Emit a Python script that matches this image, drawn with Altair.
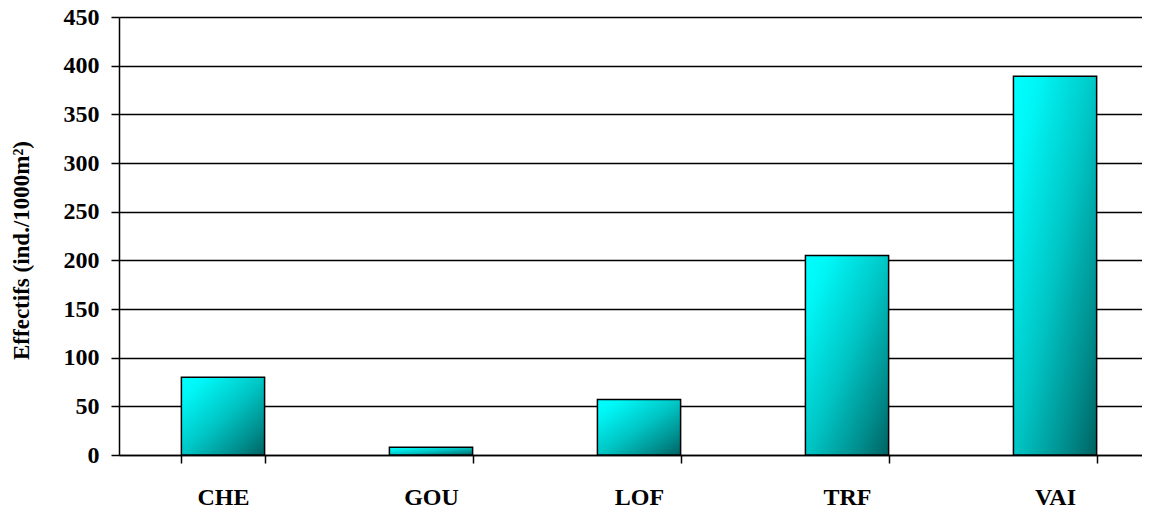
import altair as alt
import pandas as pd

categories = ["CHE", "GOU", "LOF", "TRF", "VAI"]
values = [80, 8, 57, 205, 389]
y_ticks = [0, 50, 100, 150, 200, 250, 300, 350, 400, 450]

df = pd.DataFrame({"site": categories, "effectifs": values})

FONT = "Liberation Serif"

gradient = alt.Gradient(
    gradient="linear", x1=0, y1=0, x2=1, y2=1,
    stops=[
        alt.GradientStop(offset=0, color="#00FFFF"),
        alt.GradientStop(offset=0.15, color="#00F6F6"),
        alt.GradientStop(offset=0.5, color="#00C6C6"),
        alt.GradientStop(offset=0.8, color="#008E8E"),
        alt.GradientStop(offset=1, color="#006262"),
    ],
)

bars = alt.Chart(df).mark_bar(fill=gradient, stroke="black", strokeWidth=1.5).encode(
    x=alt.X(
        "site:N", sort=categories,
        scale=alt.Scale(paddingInner=0.6, paddingOuter=0.259, align=0.579),
        axis=alt.Axis(
            title=None, labelAngle=0, labelFont=FONT, labelFontSize=24,
            labelFontWeight="bold", labelColor="black", labelPadding=22,
            tickBand="extent", tickSize=8, tickColor="black", tickWidth=1.5,
            domainColor="black", domainWidth=1.5, grid=False,
        ),
    ),
    y=alt.Y(
        "effectifs:Q",
        scale=alt.Scale(domain=[0, 450], nice=False),
        axis=alt.Axis(
            title="Effectifs (ind./1000m²)", titleFont=FONT, titleFontSize=23,
            titleFontWeight="bold", titleColor="black", titleAngle=270,
            titleX=-86, titleY=233, titleBaseline="bottom", titleAlign="center",
            values=y_ticks, labelFont=FONT, labelFontSize=24, labelFontWeight="bold",
            labelColor="black", labelPadding=12, tickSize=8, tickColor="black",
            tickWidth=1.5, domainColor="black", domainWidth=1.5,
            grid=True, gridColor="black", gridWidth=1.5,
        ),
    ),
)

chart = bars.properties(
    width=1023, height=438,
    autosize=alt.AutoSizeParams(type="none"),
    padding={"left": 111, "top": 9, "right": 0, "bottom": 60},
).configure_view(strokeWidth=0).configure(background="white")

chart.save("out.html", embed_options={"renderer": "svg", "actions": False})
